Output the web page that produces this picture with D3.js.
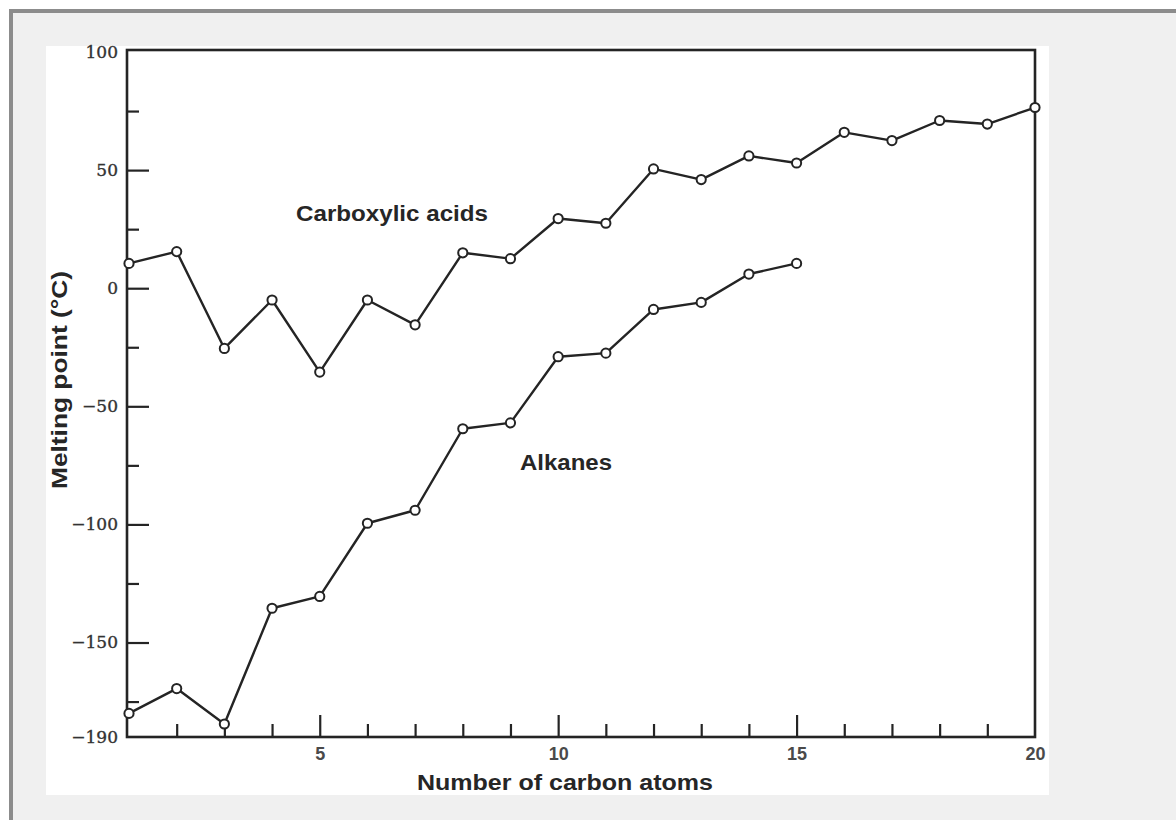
<!DOCTYPE html>
<html>
<head>
<meta charset="utf-8">
<script src="https://cdn.jsdelivr.net/npm/d3@7"></script>
<style>
  html, body { margin: 0; padding: 0; background: #ffffff; }
  svg { display: block; }
</style>
</head>
<body>
<svg id="chart" width="1176" height="820"></svg>
<script>
// Melting points of straight-chain carboxylic acids and alkanes
const acidCarbons = [1, 2, 3, 4, 5, 6, 7, 8, 9, 10, 11, 12, 13, 14, 15, 16, 17, 18, 19, 20];
const acidMeltingPoints = [10.5, 15.5, -25.5, -5, -35.5, -5, -15.5, 15, 12.5, 29.5, 27.5, 50.5, 46, 56, 53, 66, 62.5, 71, 69.5, 76.5];

const alkaneCarbons = [1, 2, 3, 4, 5, 6, 7, 8, 9, 10, 11, 12, 13, 14, 15];
const alkaneMeltingPoints = [-180, -169.5, -184.5, -135.5, -130.5, -99.5, -94, -59.5, -57, -29, -27.5, -9, -6, 6, 10.5];

// Axis tick values
const yLabelTicks = [100, 50, 0, -50, -100, -150, -190];
const yMinorTicks = [75, 25, -25, -75, -125, -175];
const xLabelTicks = [5, 10, 15, 20];
const xMajorTicks = [5, 10, 15];
const xMinorTicks = [2, 3, 4, 6, 7, 8, 9, 11, 12, 13, 14, 16, 17, 18, 19];

const seriesLabels = ["Carboxylic acids", "Alkanes"];
const xTitle = "Number of carbon atoms";
const yTitle = "Melting point (°C)";

const svg = d3.select("#chart");
const ink = "#242424";

// Page frame: grey border with a light panel, white card holding the plot
svg.append("rect").attr("x", 11).attr("y", 11).attr("width", 1200).attr("height", 850)
  .attr("fill", "#f0f0f0").attr("stroke", "#8c8c8c").attr("stroke-width", 4);
svg.append("rect").attr("x", 46).attr("y", 46).attr("width", 1003).attr("height", 749)
  .attr("fill", "#ffffff");

const plot = { left: 127, right: 1035, top: 50, bottom: 737 };

const x = d3.scaleLinear().domain([1, 20]).range([129, 1035]);
const y = d3.scaleLinear().domain([-190, 100]).range([737, 52]);

const fmt = d => d < 0 ? "\u2212" + Math.abs(d) : String(d);

// Y axis: labelled ticks (long) and intermediate ticks (short), pointing inward
const gyMajor = svg.append("g").attr("transform", `translate(${plot.left},0)`)
  .call(d3.axisLeft(y).tickValues(yLabelTicks).tickSize(-22).tickPadding(9).tickFormat(fmt));
gyMajor.selectAll("line").filter(d => d === 100 || d === -190).remove();
const gyMinor = svg.append("g").attr("transform", `translate(${plot.left},0)`)
  .call(d3.axisLeft(y).tickValues(yMinorTicks).tickSize(-12).tickFormat(""));

// X axis
const gxLabels = svg.append("g").attr("transform", `translate(0,${plot.bottom})`)
  .call(d3.axisBottom(x).tickValues(xLabelTicks).tickSize(0).tickPadding(10).tickFormat(d => d));
const gxMajor = svg.append("g").attr("transform", `translate(0,${plot.bottom})`)
  .call(d3.axisBottom(x).tickValues(xMajorTicks).tickSize(-22).tickFormat(""));
const gxMinor = svg.append("g").attr("transform", `translate(0,${plot.bottom})`)
  .call(d3.axisBottom(x).tickValues(xMinorTicks).tickSize(-13).tickFormat(""));

[gyMajor, gyMinor, gxLabels, gxMajor, gxMinor].forEach(g => {
  g.select(".domain").remove();
  g.selectAll("line").attr("stroke", ink).attr("stroke-width", 2.2);
});

gyMajor.selectAll("text")
  .attr("font-family", "'DejaVu Serif', serif")
  .attr("font-size", 17)
  .attr("fill", "#333")
  .attr("stroke", "#333")
  .attr("stroke-width", 0.35);
gxLabels.selectAll("text")
  .attr("font-family", "'Liberation Sans', Arial, sans-serif")
  .attr("font-weight", "bold")
  .attr("font-size", 18)
  .attr("fill", "#4a4a4a");

// Plot frame
svg.append("rect")
  .attr("x", plot.left).attr("y", plot.top)
  .attr("width", plot.right - plot.left).attr("height", plot.bottom - plot.top)
  .attr("fill", "none").attr("stroke", ink).attr("stroke-width", 2.6);

// Series
const series = [
  { xs: acidCarbons, ys: acidMeltingPoints },
  { xs: alkaneCarbons, ys: alkaneMeltingPoints }
];

const line = d3.line().x(d => x(d[0])).y(d => y(d[1]));

series.forEach(s => {
  const pts = s.xs.map((c, i) => [c, s.ys[i]]);
  svg.append("path").datum(pts)
    .attr("d", line)
    .attr("fill", "none")
    .attr("stroke", ink)
    .attr("stroke-width", 2.4)
    .attr("stroke-linejoin", "round");
  svg.append("g").selectAll("circle").data(pts).join("circle")
    .attr("cx", d => x(d[0]))
    .attr("cy", d => y(d[1]))
    .attr("r", 4.6)
    .attr("fill", "#ffffff")
    .attr("stroke", ink)
    .attr("stroke-width", 2);
});

// Series annotations
const labelFont = "'Liberation Sans', Arial, Helvetica, sans-serif";
svg.append("text")
  .attr("x", 296).attr("y", 221)
  .attr("font-family", labelFont).attr("font-weight", "bold").attr("font-size", 22)
  .attr("fill", "#262626")
  .attr("textLength", 192).attr("lengthAdjust", "spacingAndGlyphs")
  .text(seriesLabels[0]);
svg.append("text")
  .attr("x", 520).attr("y", 470)
  .attr("font-family", labelFont).attr("font-weight", "bold").attr("font-size", 22)
  .attr("fill", "#262626")
  .attr("textLength", 92).attr("lengthAdjust", "spacingAndGlyphs")
  .text(seriesLabels[1]);

// Axis titles
svg.append("text")
  .attr("x", 565).attr("y", 790)
  .attr("text-anchor", "middle")
  .attr("font-family", labelFont).attr("font-weight", "bold").attr("font-size", 22)
  .attr("fill", "#262626")
  .attr("textLength", 296).attr("lengthAdjust", "spacingAndGlyphs")
  .text(xTitle);
svg.append("text")
  .attr("transform", "translate(67,380) rotate(-90)")
  .attr("text-anchor", "middle")
  .attr("font-family", labelFont).attr("font-weight", "bold").attr("font-size", 22)
  .attr("fill", "#262626")
  .attr("textLength", 218).attr("lengthAdjust", "spacingAndGlyphs")
  .text(yTitle);
</script>
</body>
</html>
